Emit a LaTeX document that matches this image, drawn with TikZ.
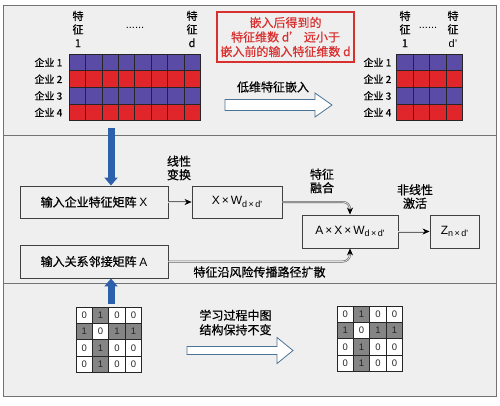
\documentclass[tikz,border=0pt]{standalone}
\usepackage{fontspec}
\setmainfont{Noto Sans CJK SC}[RawFeature={embolden=0.6}]
\newfontfamily\lat{Liberation Sans}
\usetikzlibrary{arrows.meta}
\definecolor{panelgray}{HTML}{EFEFEF}
\definecolor{cellblue}{HTML}{5A4CA6}
\definecolor{cellred}{HTML}{E0262A}
\definecolor{arrowblue}{HTML}{2D60AA}
\definecolor{hollowline}{HTML}{4B7395}
\definecolor{notered}{HTML}{D8302F}
\definecolor{matgray}{HTML}{858585}
\newcommand{\lowidx}[1]{\raisebox{-0.4ex}{\fontsize{9}{9}\selectfont #1}}

\begin{document}
\begin{tikzpicture}[x=1pt,y=-1pt,inner sep=1pt,
  procbox/.style={draw=black!75,line width=0.9pt,fill=panelgray,minimum height=32pt,font=\fontsize{12}{14}\selectfont},
  rowtag/.style={anchor=east,font=\fontsize{10}{12}\selectfont},
  coltag/.style={align=center,font=\fontsize{11}{13.5}\selectfont},
  steptext/.style={align=center,font=\fontsize{12}{13.5}\selectfont},
  gridcell/.style={draw=black!85,line width=0.7pt},
  matcell/.style={draw=black!85,line width=0.8pt},
  matnum/.style={font=\lat\fontsize{9.5}{9.5}\selectfont,text=black!85},
  flowline/.style={draw=black!60,line width=0.6pt,double=black!12,double distance=0.8pt,-{Stealth[length=7pt,width=6pt,black]}},
  bluearrow/.style={draw=arrowblue,line width=7pt,-{Triangle[length=8pt,width=13pt]}},
  hollow/.style={draw=hollowline,fill=white,line width=0.8pt,line join=miter}]
\useasboundingbox (0,0) rectangle (500,405);

%Panels
\draw[draw=black!55,line width=1pt,fill=panelgray] (3,5) rectangle (496,396);
\draw[draw=black!55,line width=1pt] (3,135.5) -- (496,135.5);
\draw[draw=black!55,line width=1pt] (3,283) -- (496,283);

%Feature Grids
\foreach \r/\col in {0/cellblue,1/cellred,2/cellblue,3/cellred}{
  \foreach \c in {0,...,7}
    \draw[gridcell,fill=\col] (69+\c*16.45,54+\r*16.67) rectangle ++(16.45,16.67);
  \foreach \c in {0,...,3}
    \draw[gridcell,fill=\col] (396.5+\c*16.5,54+\r*16.67) rectangle ++(16.5,16.67);
}

%Grid Labels
\foreach \r/\ry in {1/62.3,2/79,3/95.7,4/112.3}{
  \node[rowtag] (leftRow\r) at (63.5,\ry) {企业 \r};
  \node[rowtag] (rightRow\r) at (392.5,\ry) {企业 \r};
}
\node[coltag] (leftColA) at (78,29) {特\\征\\1};
\node[coltag] (leftColD) at (192,29) {特\\征\\d};
\node[coltag] (leftDots) at (135,28) {\lat ......};
\node[coltag] (rightColA) at (405,29) {特\\征\\1};
\node[coltag] (rightColD) at (453,29) {特\\征\\{\lat d’}};
\node[coltag] (rightDots) at (428,28) {\lat ......};

%Note
\node[draw=notered,line width=1.1pt,text=notered,align=center,minimum width=137pt,minimum height=50pt,inner sep=0pt,font=\fontsize{12}{14.5}\selectfont] (note) at (285.5,37) {嵌入后得到的\\特征维数 d’ 远小于\\嵌入前的输入特征维数 d};

%Embedding Arrow
\draw[hollow] (225,99.5) -- (315,99.5) -- (315,93) -- (332,105) -- (315,117) -- (315,110.5) -- (225,110.5) -- cycle;
\node[steptext] (embedLabel) at (273,87) {低维特征嵌入};

%Process Boxes
\node[procbox,minimum width=148pt] (inX) at (94,202) {输入企业特征矩阵 {\lat X}};
\node[procbox,minimum width=90pt] (xw) at (237,202) {\lat X\,×\,W\lowidx{d\,×\,d'}};
\node[procbox,minimum width=148pt,minimum height=33pt] (inA) at (94,261.5) {输入关系邻接矩阵 {\lat A}};
\node[procbox,minimum width=96pt,minimum height=33pt] (axw) at (350,231.5) {\lat A\,×\,X\,×\,W\lowidx{d\,×\,d'}};
\node[procbox,minimum width=49pt,minimum height=33pt] (zout) at (454.5,231.5) {\lat Z\lowidx{n\,×\,d'}};

%Step Labels
\node[steptext] (linLabel) at (179,168) {线性\\变换};
\node[steptext] (fuseLabel) at (322,181) {特征\\融合};
\node[steptext] (actLabel) at (415,196.5) {非线性\\激活};
\node[steptext] (spreadLabel) at (259.5,272) {特征沿风险传播路径扩散};

%Connections
\draw[flowline] (inX) -- (xw);
\draw[flowline,rounded corners=7pt] (xw.east) -| (axw.north);
\draw[flowline,rounded corners=7pt] (inA.east) -| (axw.south);
\draw[flowline] (axw) -- (zout);
\coordinate (gridFoot) at (111,128);
\coordinate (matFoot) at (111,304);
\draw[bluearrow] (gridFoot) -- (gridFoot |- inX.north);
\draw[bluearrow] (matFoot) -- (matFoot |- inA.south);

%Adjacency Matrices
\foreach \ox/\oy/\m in {76/307/L,337/306/R}{
  \foreach \row [count=\r from 0] in {{0,1,0,0},{1,0,1,1},{0,1,0,0},{0,1,0,0}}{
    \foreach \v [count=\c from 0] in \row{
      \ifnum\v=1 \def\shade{matgray}\else\def\shade{white}\fi
      \draw[matcell,fill=\shade] (\ox+\c*16.4,\oy+\r*16.4) rectangle ++(16.4,16.4);
      \node[matnum] (adj\m\r\c) at (\ox+\c*16.4+8.2,\oy+\r*16.4+8.2) {\v};
    }
  }
}

%Structure Arrow
\draw[hollow] (187,346.5) -- (277,346.5) -- (277,337.5) -- (293,350.5) -- (277,363.5) -- (277,354.5) -- (187,354.5) -- cycle;
\node[align=left,font=\fontsize{12}{14.5}\selectfont] (keepLabel) at (235.5,322.5) {学习过程中图\\结构保持不变};
\end{tikzpicture}
\end{document}
